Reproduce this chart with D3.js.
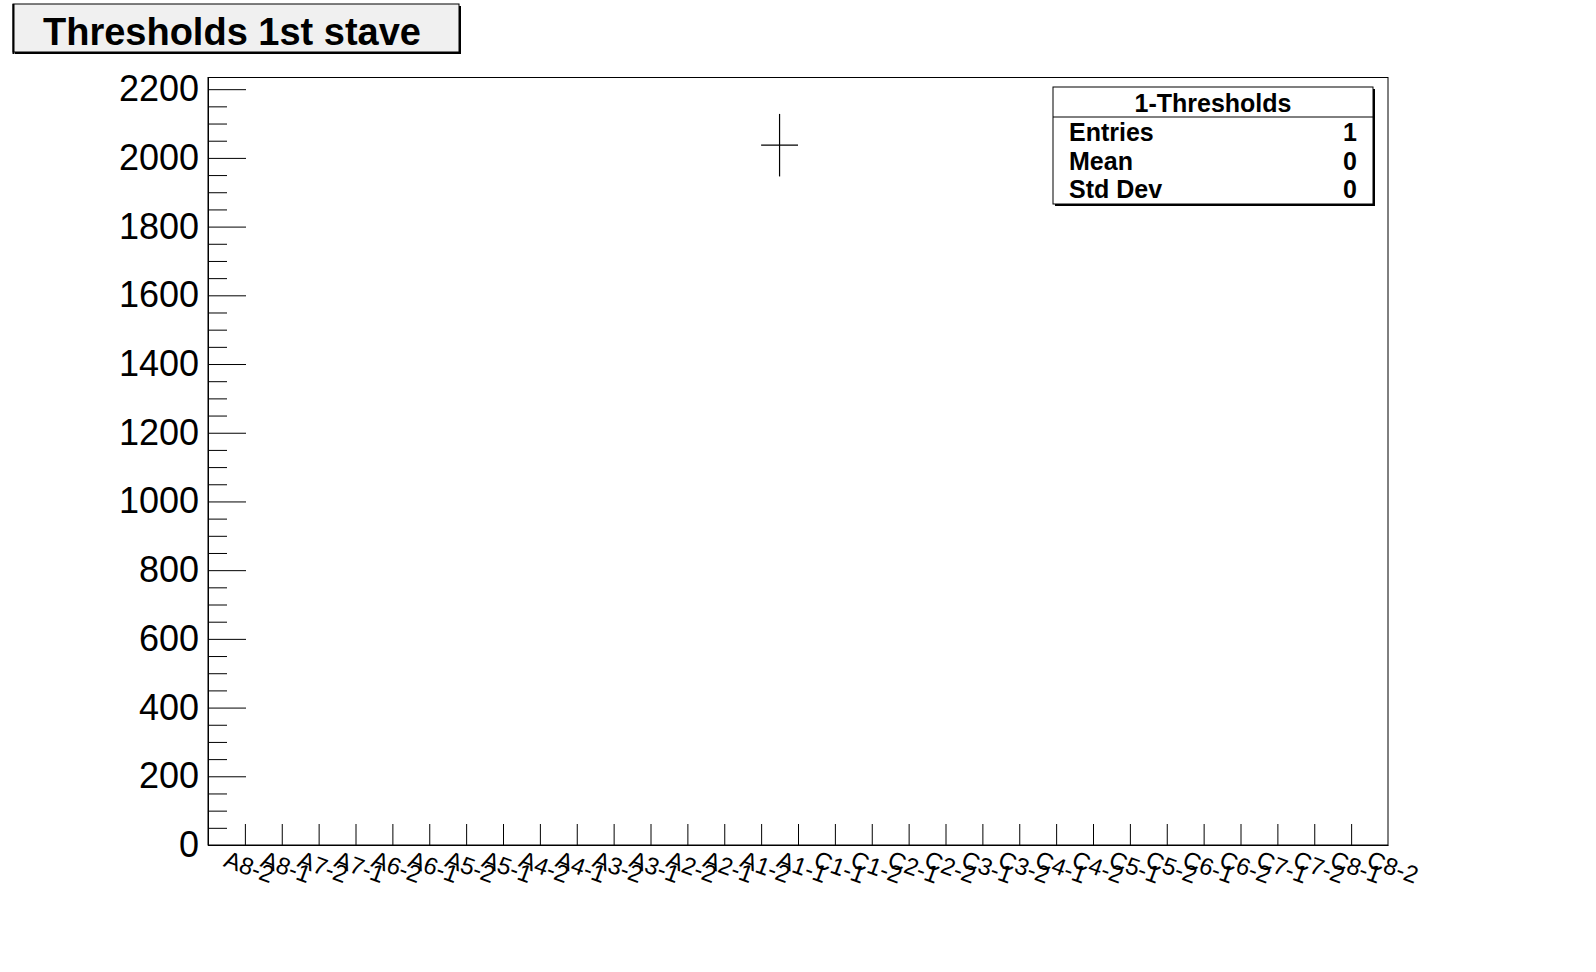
<!DOCTYPE html>
<html>
<head>
<meta charset="utf-8">
<script src="https://cdn.jsdelivr.net/npm/d3@7"></script>
<style>
  html, body { margin: 0; padding: 0; background: #ffffff; }
  svg { display: block; font-family: "Liberation Sans", Arial, Helvetica, sans-serif; }
</style>
</head>
<body>
<svg id="chart" width="1596" height="972"></svg>
<script>
// ---- data ----
const categories = ["A8-2","A8-1","A7-2","A7-1","A6-2","A6-1","A5-2","A5-1",
  "A4-2","A4-1","A3-2","A3-1","A2-2","A2-1","A1-2","A1-1",
  "C1-1","C1-2","C2-1","C2-2","C3-1","C3-2","C4-1","C4-2",
  "C5-1","C5-2","C6-1","C6-2","C7-1","C7-2","C8-1","C8-2"];
const values = [0,0,0,0,0,0,0,0, 0,0,0,0,0,0,0,2037, 0,0,0,0,0,0,0,0, 0,0,0,0,0,0,0,0];
const errors = [0,0,0,0,0,0,0,0, 0,0,0,0,0,0,0,91, 0,0,0,0,0,0,0,0, 0,0,0,0,0,0,0,0];
const yTicks = [0,200,400,600,800,1000,1200,1400,1600,1800,2000,2200];
const yMinorTicks = d3.range(50, 2234, 50).filter(v => v % 200 !== 0);
const titleText = "Thresholds 1st stave";
const statsTitle = "1-Thresholds";
const statsLabels = ["Entries","Mean","Std Dev"];
const statsValues = ["1","0","0"];

// ---- layout ----
const svg = d3.select("#chart");
const L = 208, R = 1388, T = 77.5, B = 845;

const x = d3.scaleBand().domain(categories).range([L, R]).padding(0);
const xEdge = d3.scaleLinear().domain([0, categories.length]).range([L, R]);
const y = d3.scaleLinear().domain([0, 2234]).range([B, T]);

svg.append("rect").attr("x", 0).attr("y", 0).attr("width", 1596).attr("height", 972).attr("fill", "#fff");

// frame
svg.append("rect")
  .attr("x", L).attr("y", T).attr("width", R - L).attr("height", B - T)
  .attr("fill", "none").attr("stroke", "#000").attr("stroke-width", 1);

// y axis major
const yAxis = svg.append("g").attr("transform", `translate(${L},0)`)
  .call(d3.axisLeft(y).tickValues(yTicks).tickSizeInner(-38).tickSizeOuter(0).tickPadding(9)
    .tickFormat(d3.format("d")));
yAxis.selectAll("text").attr("font-size", 36).attr("fill", "#000")
  .attr("font-family", "'Liberation Sans', Arial, sans-serif");
yAxis.selectAll("line").attr("stroke", "#000");
yAxis.select(".domain").attr("stroke", "#000");

// y axis minor
const yMinor = svg.append("g").attr("transform", `translate(${L},0)`)
  .call(d3.axisLeft(y).tickValues(yMinorTicks).tickSizeInner(-19).tickSizeOuter(0).tickFormat(""));
yMinor.select(".domain").remove();
yMinor.selectAll("line").attr("stroke", "#000");

// x axis ticks at bin edges
const xAxis = svg.append("g").attr("transform", `translate(0,${B})`)
  .call(d3.axisBottom(xEdge).tickValues(d3.range(1, categories.length)).tickSizeInner(-21).tickSizeOuter(0).tickFormat(""));
xAxis.select(".domain").attr("stroke", "#000");
xAxis.selectAll("line").attr("stroke", "#000");

// x labels (rotated)
svg.append("g").selectAll("text").data(categories).join("text")
  .attr("transform", d => `translate(${x(d) + x.bandwidth() / 2 - 4},866) rotate(20)`)
  .attr("font-size", 24)
  .attr("fill", "#000")
  .text(d => d);

// data points (cross markers with error bars)
const pts = categories.map((c, i) => ({c, v: values[i], e: errors[i]})).filter(d => d.v > 0);
const g = svg.append("g").attr("stroke", "#000").attr("stroke-width", 1.2);
g.selectAll("line.h").data(pts).join("line").attr("class", "h")
  .attr("x1", d => x(d.c)).attr("x2", d => x(d.c) + x.bandwidth())
  .attr("y1", d => y(d.v)).attr("y2", d => y(d.v));
g.selectAll("line.v").data(pts).join("line").attr("class", "v")
  .attr("x1", d => x(d.c) + x.bandwidth() / 2).attr("x2", d => x(d.c) + x.bandwidth() / 2)
  .attr("y1", d => y(d.v + d.e)).attr("y2", d => y(d.v - d.e));

// title box
svg.append("rect").attr("x", 15).attr("y", 6).attr("width", 446).attr("height", 48).attr("fill", "#000");
svg.append("rect").attr("x", 13).attr("y", 4).attr("width", 446).attr("height", 48)
  .attr("fill", "#f0f0f0").attr("stroke", "#000").attr("stroke-width", 1);
svg.append("line").attr("x1", 13.5).attr("x2", 13.5).attr("y1", 4).attr("y2", 54).attr("stroke", "#000").attr("stroke-width", 2);
svg.append("text").attr("x", 232).attr("y", 45).attr("text-anchor", "middle")
  .attr("font-size", 38).attr("font-weight", "bold").attr("fill", "#000").text(titleText);

// stats box
const sx = 1053, sy = 87, sw = 320, sh = 117;
svg.append("rect").attr("x", sx + 2).attr("y", sy + 2).attr("width", sw).attr("height", sh).attr("fill", "#000");
svg.append("rect").attr("x", sx).attr("y", sy).attr("width", sw).attr("height", sh)
  .attr("fill", "#fff").attr("stroke", "#000").attr("stroke-width", 1);
svg.append("line").attr("x1", sx).attr("x2", sx + sw).attr("y1", 117).attr("y2", 117).attr("stroke", "#000");
svg.append("text").attr("x", sx + sw / 2).attr("y", 112).attr("text-anchor", "middle")
  .attr("font-size", 25).attr("font-weight", "bold").attr("fill", "#000").text(statsTitle);
const rowY = [141, 169.5, 198];
svg.append("g").selectAll("text").data(statsLabels).join("text")
  .attr("x", 1069).attr("y", (d, i) => rowY[i])
  .attr("font-size", 25).attr("font-weight", "bold").attr("fill", "#000").text(d => d);
svg.append("g").selectAll("text").data(statsValues).join("text")
  .attr("x", 1357).attr("y", (d, i) => rowY[i]).attr("text-anchor", "end")
  .attr("font-size", 25).attr("font-weight", "bold").attr("fill", "#000").text(d => d);
</script>
</body>
</html>
